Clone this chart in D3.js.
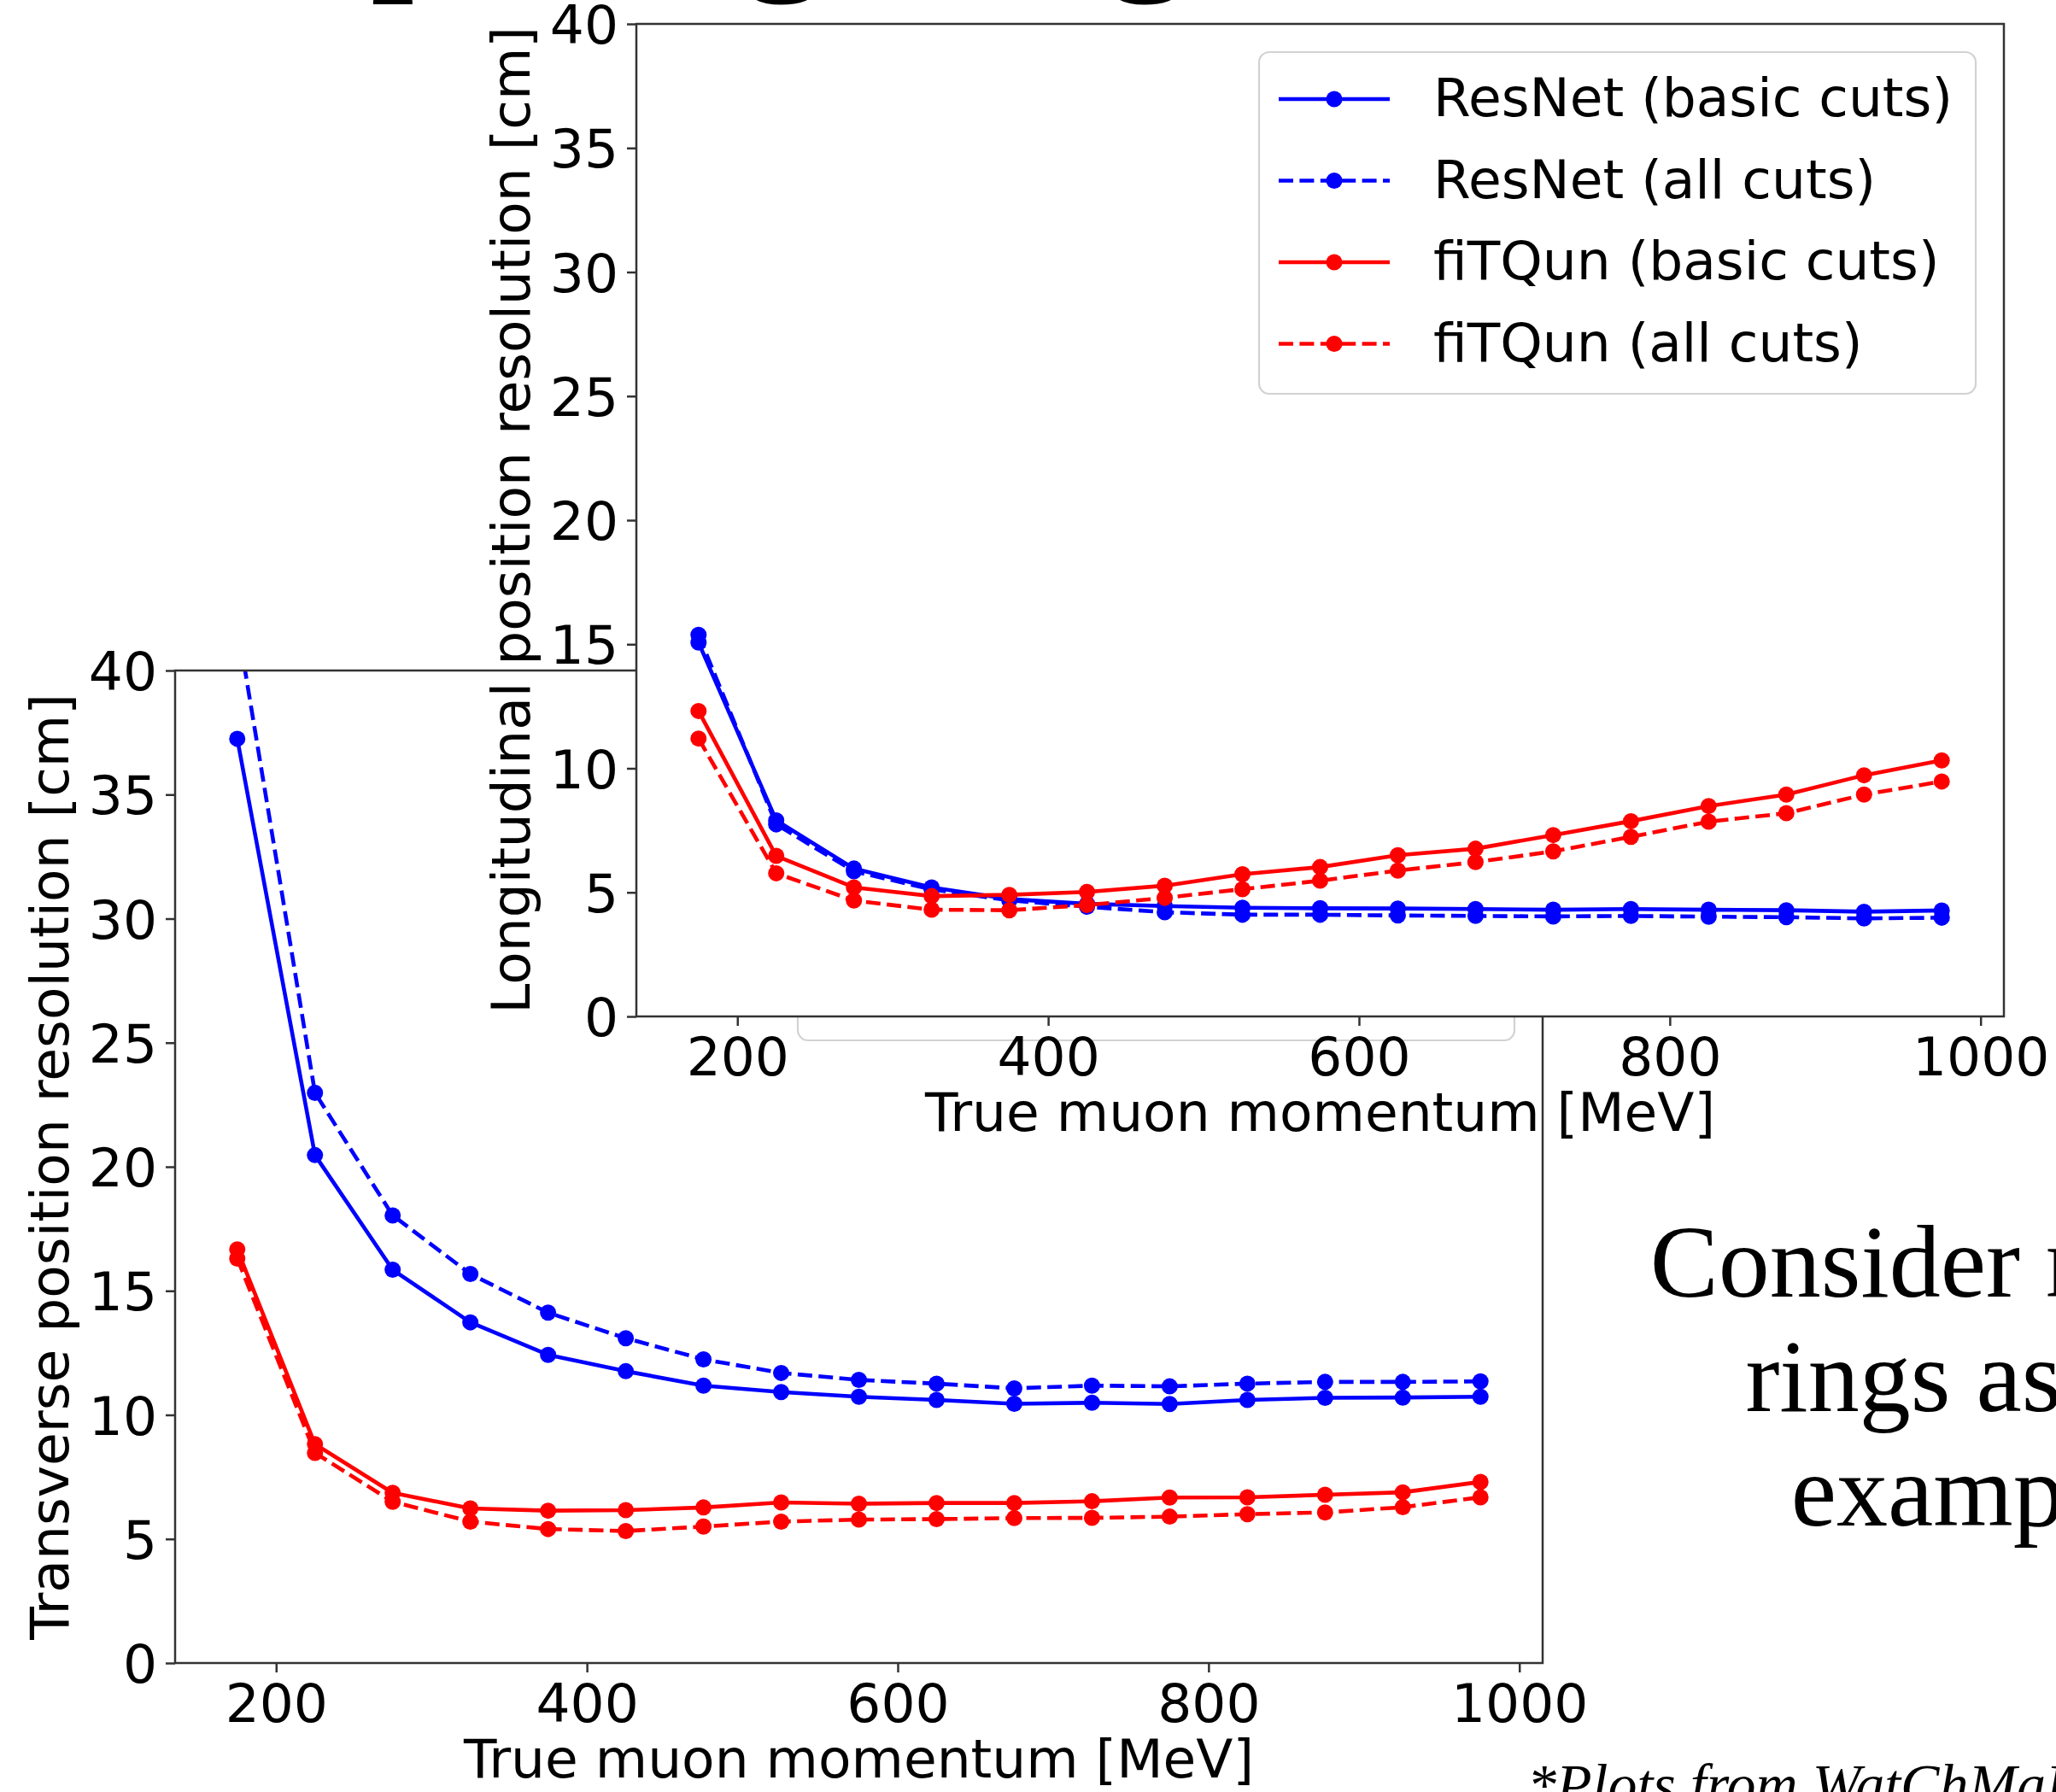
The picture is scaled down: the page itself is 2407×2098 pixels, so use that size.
<!DOCTYPE html>
<html>
<head>
<meta charset="utf-8">
<script src="https://cdn.jsdelivr.net/npm/d3@7"></script>
<style>
  html, body { margin: 0; padding: 0; background: #fff; }
  svg { display: block; }
</style>
</head>
<body>
<svg id="slide" width="2407" height="2098"></svg>
<script>
// ---- data -----------------------------------------------------------
const momentum = [175, 225, 275, 325, 375, 425, 475, 525, 575, 625, 675, 725, 775, 825, 875, 925, 975];

// Transverse position resolution [cm]
const resnetBasicT = [37.25, 20.47, 15.85, 13.73, 12.42, 11.76, 11.18, 10.92, 10.73, 10.60, 10.45, 10.49, 10.44, 10.60, 10.69, 10.70, 10.73];
const resnetAllT   = [41.9, 22.98, 18.04, 15.68, 14.12, 13.09, 12.24, 11.69, 11.41, 11.26, 11.07, 11.18, 11.15, 11.26, 11.33, 11.33, 11.35];
const fitqunBasicT = [16.67, 8.82, 6.86, 6.23, 6.14, 6.16, 6.27, 6.47, 6.42, 6.45, 6.45, 6.52, 6.67, 6.68, 6.78, 6.88, 7.30];
const fitqunAllT   = [16.30, 8.47, 6.50, 5.70, 5.40, 5.32, 5.50, 5.70, 5.78, 5.80, 5.84, 5.85, 5.90, 6.00, 6.07, 6.28, 6.68];

// Longitudinal position resolution [cm]
const resnetBasicL = [15.07, 7.90, 5.96, 5.20, 4.73, 4.54, 4.45, 4.38, 4.36, 4.35, 4.33, 4.30, 4.33, 4.30, 4.28, 4.22, 4.27];
const resnetAllL   = [15.38, 7.74, 5.85, 5.12, 4.68, 4.42, 4.20, 4.10, 4.10, 4.07, 4.05, 4.03, 4.05, 4.02, 4.00, 3.95, 3.98];
const fitqunBasicL = [12.31, 6.47, 5.20, 4.85, 4.90, 5.02, 5.27, 5.73, 6.02, 6.50, 6.76, 7.31, 7.87, 8.48, 8.94, 9.72, 10.32];
const fitqunAllL   = [11.20, 5.77, 4.67, 4.30, 4.28, 4.49, 4.78, 5.13, 5.47, 5.88, 6.22, 6.65, 7.24, 7.85, 8.19, 8.94, 9.47];

const seriesNames  = ["ResNet (basic cuts)", "ResNet (all cuts)", "fiTQun (basic cuts)", "fiTQun (all cuts)"];
const seriesColors = ["#0000ff", "#0000ff", "#ff0000", "#ff0000"];
const seriesDashed = [false, true, false, true];

const xTicks = [200, 400, 600, 800, 1000];
const yTicks = [0, 5, 10, 15, 20, 25, 30, 35, 40];
const xDomain = [135, 1015];
const yDomain = [0, 40];

const xLabel = "True muon momentum [MeV]";
const yLabelT = "Transverse position resolution [cm]";
const yLabelL = "Longitudinal position resolution [cm]";

const titleText = "Comparing longitudinal and transverse resolution";
const noteLines = ["Consider muon", "rings as an", "example"];
const sourceNote = "*Plots from WatChMaL";

// ---- styling --------------------------------------------------------
const SANS = "'DejaVu Sans', sans-serif";
const SERIF = "'Liberation Serif', 'Times New Roman', serif";
const FS = 63;          // plot text size
const LW = 4.6;         // data line width
const MR = 9.5;         // marker radius
const DASH = "17,7.4";
const SPINE = "#333";

const svg = d3.select("#slide");
svg.append("rect").attr("width", 2407).attr("height", 2098).attr("fill", "#fff");

// slide text (title sits mostly above the visible area)
svg.append("text")
  .attr("x", 25).attr("y", -40)
  .attr("font-family", SERIF).attr("font-size", 210)
  .attr("fill", "#000")
  .text(titleText);

const note = svg.append("text")
  .attr("font-family", SERIF).attr("font-size", 120)
  .attr("fill", "#000").attr("text-anchor", "middle");
noteLines.forEach((t, i) => {
  note.append("tspan").attr("x", 2300).attr("y", 1518 + i * 134).text(t);
});

svg.append("text")
  .attr("x", 1788).attr("y", 2112)
  .attr("font-family", SERIF).attr("font-size", 68).attr("font-style", "italic")
  .attr("fill", "#000")
  .text(sourceNote);

// ---- one matplotlib-style panel ------------------------------------
function drawPanel(cfg) {
  const { id, left, top, width, height, series, yLabel } = cfg;
  const g = svg.append("g");
  const x = d3.scaleLinear().domain(xDomain).range([left, left + width]);
  const y = d3.scaleLinear().domain(yDomain).range([top + height, top]);

  // axes face (opaque)
  g.append("rect")
    .attr("x", left).attr("y", top).attr("width", width).attr("height", height)
    .attr("fill", "#fff");

  g.append("clipPath").attr("id", id)
    .append("rect")
    .attr("x", left).attr("y", top).attr("width", width).attr("height", height);

  const plot = g.append("g").attr("clip-path", `url(#${id})`);
  const line = d3.line().x(d => x(d[0])).y(d => y(d[1]));

  series.forEach((vals, i) => {
    const pts = momentum.map((m, j) => [m, vals[j]]);
    plot.append("path")
      .attr("d", line(pts))
      .attr("fill", "none")
      .attr("stroke", seriesColors[i])
      .attr("stroke-width", LW)
      .attr("stroke-linejoin", "round")
      .attr("stroke-linecap", seriesDashed[i] ? "butt" : "square")
      .attr("stroke-dasharray", seriesDashed[i] ? DASH : null);
    plot.append("g").selectAll("circle").data(pts).join("circle")
      .attr("cx", d => x(d[0])).attr("cy", d => y(d[1]))
      .attr("r", MR).attr("fill", seriesColors[i]);
  });

  // axes
  const fmt = d3.format("d");
  const xAxis = g.append("g")
    .attr("transform", `translate(0,${top + height})`)
    .call(d3.axisBottom(x).tickValues(xTicks).tickFormat(fmt)
      .tickSize(11).tickSizeOuter(0).tickPadding(13));
  const yAxis = g.append("g")
    .attr("transform", `translate(${left},0)`)
    .call(d3.axisLeft(y).tickValues(yTicks).tickFormat(fmt)
      .tickSize(11).tickSizeOuter(0).tickPadding(10));
  [xAxis, yAxis].forEach(a => {
    a.select(".domain").remove();
    a.selectAll(".tick line").attr("stroke", SPINE).attr("stroke-width", 2.5);
    a.selectAll(".tick text")
      .attr("font-family", SANS).attr("font-size", FS).attr("fill", "#000");
  });
  yAxis.selectAll(".tick text").attr("dy", "0.36em");

  // spines
  g.append("rect")
    .attr("x", left).attr("y", top).attr("width", width).attr("height", height)
    .attr("fill", "none").attr("stroke", SPINE).attr("stroke-width", 2.5);

  // axis labels
  g.append("text")
    .attr("x", left + width / 2).attr("y", top + height + 134)
    .attr("text-anchor", "middle")
    .attr("font-family", SANS).attr("font-size", FS).attr("fill", "#000")
    .text(xLabel);
  g.append("text")
    .attr("transform", `translate(${left - 125},${top + height / 2}) rotate(-90)`)
    .attr("text-anchor", "middle")
    .attr("font-family", SANS).attr("font-size", FS).attr("fill", "#000")
    .text(yLabel);

  // legend (upper right)
  const lgW = 839, lgH = 400;
  const lgX = left + width - 33 - lgW, lgY = top + 33;
  const lg = g.append("g");
  lg.append("rect")
    .attr("x", lgX).attr("y", lgY).attr("width", lgW).attr("height", lgH)
    .attr("rx", 12).attr("ry", 12)
    .attr("fill", "#fff").attr("fill-opacity", 0.8)
    .attr("stroke", "#d2d2d2").attr("stroke-width", 2.2);
  seriesNames.forEach((name, i) => {
    const cy = lgY + 55 + i * 95.5;
    lg.append("line")
      .attr("x1", lgX + 23).attr("x2", lgX + 153).attr("y1", cy).attr("y2", cy)
      .attr("stroke", seriesColors[i]).attr("stroke-width", LW)
      .attr("stroke-dasharray", seriesDashed[i] ? DASH : null);
    lg.append("circle")
      .attr("cx", lgX + 88).attr("cy", cy).attr("r", MR).attr("fill", seriesColors[i]);
    lg.append("text")
      .attr("x", lgX + 204).attr("y", cy).attr("dy", "0.32em")
      .attr("font-family", SANS).attr("font-size", FS).attr("fill", "#000")
      .text(name);
  });
}

// transverse panel underneath, longitudinal panel laid over it
drawPanel({
  id: "clipT", left: 205, top: 785, width: 1601, height: 1162,
  series: [resnetBasicT, resnetAllT, fitqunBasicT, fitqunAllT],
  yLabel: yLabelT
});
drawPanel({
  id: "clipL", left: 745, top: 28, width: 1601, height: 1162,
  series: [resnetBasicL, resnetAllL, fitqunBasicL, fitqunAllL],
  yLabel: yLabelL
});
</script>
</body>
</html>
